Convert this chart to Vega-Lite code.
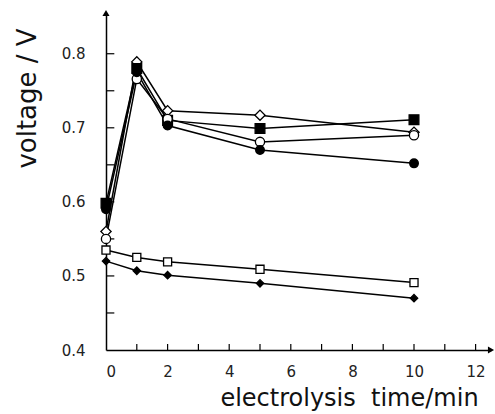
{
  "$schema": "https://vega.github.io/schema/vega-lite/v6.json",
  "width": 385,
  "height": 337,
  "autosize": {"type": "none"},
  "padding": {"left": 106, "top": 13, "right": 4, "bottom": 64},
  "background": "white",
  "config": {
    "view": {"stroke": null},
    "axis": {
      "grid": false,
      "ticks": false,
      "domainColor": "black",
      "domainWidth": 1.5,
      "labelFont": "DejaVu Sans",
      "labelFontSize": 15,
      "labelColor": "#222",
      "titleFont": "DejaVu Sans",
      "titleFontWeight": "normal",
      "titleColor": "#111"
    }
  },
  "datasets": {
    "series": [
      {"series": "open diamond", "t": 0, "v": 0.56},
      {"series": "open diamond", "t": 1, "v": 0.789},
      {"series": "open diamond", "t": 2, "v": 0.723},
      {"series": "open diamond", "t": 5, "v": 0.717},
      {"series": "open diamond", "t": 10, "v": 0.694},
      {"series": "filled square", "t": 0, "v": 0.598},
      {"series": "filled square", "t": 1, "v": 0.78},
      {"series": "filled square", "t": 2, "v": 0.71},
      {"series": "filled square", "t": 5, "v": 0.699},
      {"series": "filled square", "t": 10, "v": 0.711},
      {"series": "open circle", "t": 0, "v": 0.55},
      {"series": "open circle", "t": 1, "v": 0.766},
      {"series": "open circle", "t": 2, "v": 0.712},
      {"series": "open circle", "t": 5, "v": 0.681},
      {"series": "open circle", "t": 10, "v": 0.69},
      {"series": "filled circle", "t": 0, "v": 0.59},
      {"series": "filled circle", "t": 1, "v": 0.775},
      {"series": "filled circle", "t": 2, "v": 0.703},
      {"series": "filled circle", "t": 5, "v": 0.67},
      {"series": "filled circle", "t": 10, "v": 0.652},
      {"series": "open square", "t": 0, "v": 0.535},
      {"series": "open square", "t": 1, "v": 0.525},
      {"series": "open square", "t": 2, "v": 0.519},
      {"series": "open square", "t": 5, "v": 0.509},
      {"series": "open square", "t": 10, "v": 0.491},
      {"series": "filled diamond", "t": 0, "v": 0.52},
      {"series": "filled diamond", "t": 1, "v": 0.507},
      {"series": "filled diamond", "t": 2, "v": 0.501},
      {"series": "filled diamond", "t": 5, "v": 0.49},
      {"series": "filled diamond", "t": 10, "v": 0.47}
    ],
    "xticks": [
      {"t": 1, "v": 0.4, "v2": 0.408}, {"t": 2, "v": 0.4, "v2": 0.408},
      {"t": 3, "v": 0.4, "v2": 0.408}, {"t": 4, "v": 0.4, "v2": 0.408},
      {"t": 5, "v": 0.4, "v2": 0.408}, {"t": 6, "v": 0.4, "v2": 0.408},
      {"t": 7, "v": 0.4, "v2": 0.408}, {"t": 8, "v": 0.4, "v2": 0.408},
      {"t": 9, "v": 0.4, "v2": 0.408}, {"t": 10, "v": 0.4, "v2": 0.408},
      {"t": 11, "v": 0.4, "v2": 0.408}, {"t": 12, "v": 0.4, "v2": 0.408}
    ],
    "yticks": [
      {"t": 0, "t2": 0.27, "v": 0.45}, {"t": 0, "t2": 0.27, "v": 0.5},
      {"t": 0, "t2": 0.27, "v": 0.55}, {"t": 0, "t2": 0.27, "v": 0.6},
      {"t": 0, "t2": 0.27, "v": 0.65}, {"t": 0, "t2": 0.27, "v": 0.7},
      {"t": 0, "t2": 0.27, "v": 0.75}, {"t": 0, "t2": 0.27, "v": 0.8}
    ],
    "arrows": [
      {"dir": "x", "t": 12.5, "v": 0.4},
      {"dir": "y", "t": 0, "v": 0.855}
    ]
  },
  "layer": [
    {
      "data": {"name": "series"},
      "mark": {"type": "line", "color": "black", "strokeWidth": 1.5},
      "encoding": {
        "x": {
          "field": "t", "type": "quantitative",
          "scale": {"domain": [0, 12.5], "nice": false, "zero": false},
          "axis": {
            "values": [0, 2, 4, 6, 8, 10, 12],
            "labelPadding": 14,
            "title": "electrolysis\u00a0 time/min",
            "titleFontSize": 24,
            "titleX": 243,
            "titleY": 48,
            "titleAlign": "center",
            "titleBaseline": "middle"
          }
        },
        "y": {
          "field": "v", "type": "quantitative",
          "scale": {"domain": [0.4, 0.855], "nice": false, "zero": false},
          "axis": {
            "values": [0.4, 0.5, 0.6, 0.7, 0.8],
            "format": ".1f",
            "labelPadding": 21,
            "title": "voltage / V",
            "titleFontSize": 26,
            "titleX": -79,
            "titleY": 85,
            "titleAngle": -90,
            "titleAlign": "center",
            "titleBaseline": "middle"
          }
        },
        "detail": {"field": "series"}
      }
    },
    {
      "data": {"name": "xticks"},
      "mark": {"type": "rule", "color": "black", "strokeWidth": 1.2},
      "encoding": {
        "x": {"field": "t", "type": "quantitative"},
        "y": {"field": "v", "type": "quantitative"},
        "y2": {"field": "v2"}
      }
    },
    {
      "data": {"name": "yticks"},
      "mark": {"type": "rule", "color": "black", "strokeWidth": 1.2},
      "encoding": {
        "x": {"field": "t", "type": "quantitative"},
        "x2": {"field": "t2"},
        "y": {"field": "v", "type": "quantitative"}
      }
    },
    {
      "data": {"name": "series"},
      "mark": {"type": "point", "filled": true, "stroke": "black", "strokeWidth": 1.3, "opacity": 1},
      "encoding": {
        "x": {"field": "t", "type": "quantitative"},
        "y": {"field": "v", "type": "quantitative"},
        "shape": {
          "field": "series", "type": "nominal", "legend": null,
          "scale": {
            "domain": ["open diamond", "filled square", "open circle", "filled circle", "open square", "filled diamond"],
            "range": ["diamond", "square", "circle", "circle", "square", "diamond"]
          }
        },
        "fill": {
          "field": "series", "type": "nominal", "legend": null,
          "scale": {
            "domain": ["open diamond", "filled square", "open circle", "filled circle", "open square", "filled diamond"],
            "range": ["white", "black", "white", "black", "white", "black"]
          }
        },
        "size": {
          "field": "series", "type": "nominal", "legend": null,
          "scale": {
            "domain": ["open diamond", "filled square", "open circle", "filled circle", "open square", "filled diamond"],
            "range": [105, 55, 55, 28, 55, 90]
          }
        }
      }
    },
    {
      "data": {"name": "arrows"},
      "transform": [{"filter": "datum.dir == 'x'"}],
      "mark": {"type": "point", "shape": "triangle-right", "filled": true, "color": "black", "size": 50, "opacity": 1},
      "encoding": {
        "x": {"field": "t", "type": "quantitative"},
        "y": {"field": "v", "type": "quantitative"}
      }
    },
    {
      "data": {"name": "arrows"},
      "transform": [{"filter": "datum.dir == 'y'"}],
      "mark": {"type": "point", "shape": "triangle-up", "filled": true, "color": "black", "size": 50, "opacity": 1},
      "encoding": {
        "x": {"field": "t", "type": "quantitative"},
        "y": {"field": "v", "type": "quantitative"}
      }
    }
  ]
}
